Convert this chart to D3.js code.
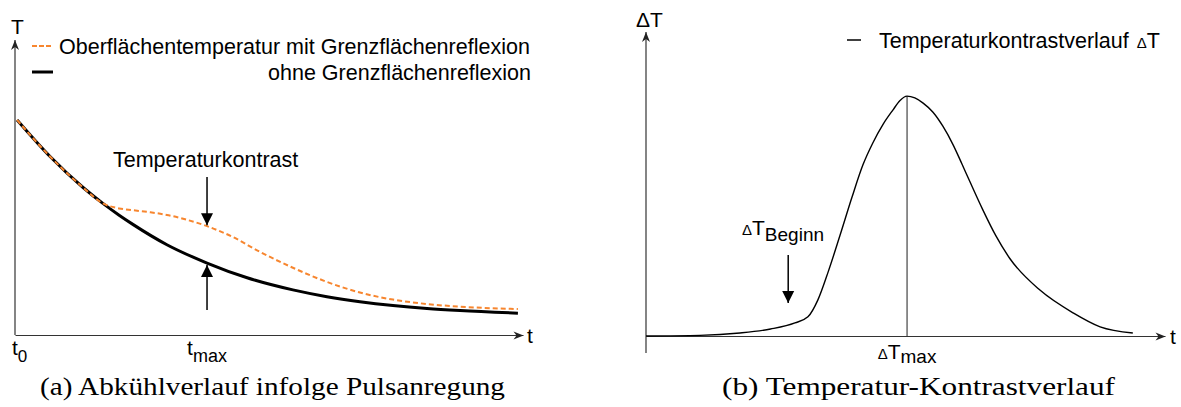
<!DOCTYPE html>
<html><head><meta charset="utf-8">
<script src="https://cdn.jsdelivr.net/npm/d3@7"></script>
<style>
html,body{margin:0;padding:0;background:#fff;}
svg{display:block;}
text{font-family:"Liberation Sans",Arial,sans-serif;fill:#000;}
</style></head>
<body>
<script>
// ---- data (a) Abkühlverlauf ----
const tBlackT    = [0.4, 6.9, 13.4, 17.3, 20.5, 23.2, 29.9, 37.8, 45.7, 54.7, 61.4, 67.9, 74.4, 81.1, 87.6, 99];
const tBlack     = [72.9, 60.5, 50.0, 44.6, 40.6, 37.5, 30.6, 24.4, 19.4, 15.3, 13.0, 11.3, 10.0, 9.0, 8.3, 7.4];
const tOrangeT   = [0.4, 6.9, 13.4, 17.3, 20.5, 23.2, 26.6, 29.9, 33.1, 37.8, 42.9, 48.2, 54.7, 61.4, 67.9, 74.4, 81.1, 87.6, 99];
const tOrange    = [72.9, 60.5, 50.0, 44.6, 42.9, 42.3, 41.6, 40.7, 39.4, 36.9, 33.2, 28.2, 22.8, 18.0, 14.4, 12.0, 10.5, 9.6, 8.8];
const tMaxLeft   = 37.8;
const legendLeft = ["Oberflächentemperatur mit Grenzflächenreflexion", "ohne Grenzflächenreflexion"];
// ---- data (b) Temperatur-Kontrastverlauf ----
const tRight     = [0, 10.4, 18.1, 24.0, 28.7, 31.2, 33.1, 35.1, 37.4, 39.7, 41.8, 43.7, 45.7, 47.6, 48.9, 50.3, 51.8, 53.4, 55.3, 57.2, 59.2, 60.9, 62.4, 64.9, 67.4, 70.1, 75.9, 82.3, 87.5, 93.8];
const deltaT     = [0, 0.2, 1.0, 2.3, 4.3, 6.3, 11.8, 21.1, 33.2, 45.7, 56.3, 63.5, 69.7, 74.4, 77.4, 78.9, 78.3, 76.6, 73.6, 69.0, 62.8, 56.5, 50.8, 41.5, 33.0, 25.5, 15.1, 7.6, 3.0, 1.0];
const tPeak      = 50.3;
const tBeginn    = 27.4;
const legendRight = "Temperaturkontrastverlauf";
const captions   = ["(a) Abkühlverlauf infolge Pulsanregung", "(b) Temperatur-Kontrastverlauf"];

const W = 1181, H = 407;
const svg = d3.select("body").append("svg").attr("width", W).attr("height", H);
const defs = svg.append("defs");
defs.append("marker").attr("id","axarrow").attr("viewBox","-11 -5 12 10")
  .attr("refX",0).attr("refY",0).attr("markerWidth",12).attr("markerHeight",10)
  .attr("markerUnits","userSpaceOnUse").attr("orient","auto")
  .append("path").attr("d","M0,0 L-10,-4 L-7,0 L-10,4 Z").attr("fill","#222");
defs.append("marker").attr("id","annarrow").attr("viewBox","-13 -7 14 14")
  .attr("refX",0).attr("refY",0).attr("markerWidth",14).attr("markerHeight",14)
  .attr("markerUnits","userSpaceOnUse").attr("orient","auto")
  .append("path").attr("d","M0,0 L-12,-6 L-12,6 Z").attr("fill","#000");

function styleAxis(g){
  g.select(".domain").attr("stroke","#333").attr("stroke-width",1.2);
}

// ===== Panel (a) =====
const xL = d3.scaleLinear().domain([0,100]).range([15,523]);
const yL = d3.scaleLinear().domain([0,100]).range([335,40]);
const gL = svg.append("g");

const axBL = gL.append("g").attr("transform",`translate(0,${yL(0)})`)
  .call(d3.axisBottom(xL).tickValues([]).tickSizeOuter(0)).call(styleAxis);
axBL.select(".domain").attr("marker-end","url(#axarrow)");
const axLL = gL.append("g").attr("transform",`translate(${xL(0)},0)`)
  .call(d3.axisLeft(yL).tickValues([]).tickSizeOuter(0)).call(styleAxis);
axLL.select(".domain").attr("d",`M0,${yL(0)}V${yL(100)}`).attr("marker-end","url(#axarrow)");

const lineL = (ts, vs) => d3.line().x((d,i)=>xL(ts[i])).y(d=>yL(d)).curve(d3.curveMonotoneX)(vs);
gL.append("path").attr("d",lineL(tBlackT, tBlack)).attr("fill","none").attr("stroke","#000").attr("stroke-width",3);
gL.append("path").attr("d",lineL(tOrangeT, tOrange)).attr("fill","none").attr("stroke","#f7862f").attr("stroke-width",2).attr("stroke-dasharray","5,3");

// labels
gL.append("text").attr("x",11).attr("y",34).attr("font-size",21).text("T");
gL.append("text").attr("x",xL(100)+4).attr("y",yL(0)+8).attr("font-size",21).text("t");
const t0 = gL.append("text").attr("x",xL(0)-3).attr("y",yL(0)+20).attr("font-size",21);
t0.append("tspan").text("t");
t0.append("tspan").attr("dy",7).attr("font-size",17).text("0");
const tmx = gL.append("text").attr("x",xL(tMaxLeft)).attr("y",yL(0)+20).attr("font-size",21).attr("text-anchor","middle");
tmx.append("tspan").text("t");
tmx.append("tspan").attr("dy",7).attr("font-size",18).text("max");

// legend
gL.append("line").attr("x1",32).attr("x2",51).attr("y1",46).attr("y2",46).attr("stroke","#f7862f").attr("stroke-width",2).attr("stroke-dasharray","5,2");
gL.append("line").attr("x1",32).attr("x2",53).attr("y1",72).attr("y2",72).attr("stroke","#000").attr("stroke-width",3);
gL.append("text").attr("x",59).attr("y",54).attr("font-size",21.5).text(legendLeft[0]);
gL.append("text").attr("x",531).attr("y",80).attr("font-size",21.5).attr("text-anchor","end").text(legendLeft[1]);

// annotation
const iMb = tBlackT.indexOf(tMaxLeft), iMo = tOrangeT.indexOf(tMaxLeft);
gL.append("text").attr("x",113).attr("y",167).attr("font-size",21.5).text("Temperaturkontrast");
gL.append("line").attr("x1",xL(tMaxLeft)).attr("x2",xL(tMaxLeft)).attr("y1",177).attr("y2",yL(tOrange[iMo])-1)
  .attr("stroke","#000").attr("stroke-width",1.5).attr("marker-end","url(#annarrow)");
gL.append("line").attr("x1",xL(tMaxLeft)).attr("x2",xL(tMaxLeft)).attr("y1",310).attr("y2",yL(tBlack[iMb])+2)
  .attr("stroke","#000").attr("stroke-width",1.5).attr("marker-end","url(#annarrow)");

// ===== Panel (b) =====
const xR = d3.scaleLinear().domain([0,100]).range([646,1165]);
const yR = d3.scaleLinear().domain([0,100]).range([336,32]);
const gR = svg.append("g");
const axBR = gR.append("g").attr("transform",`translate(0,${yR(0)})`)
  .call(d3.axisBottom(xR).tickValues([]).tickSizeOuter(0)).call(styleAxis);
axBR.select(".domain").attr("marker-end","url(#axarrow)");
const axLR = gR.append("g").attr("transform",`translate(${xR(0)},0)`)
  .call(d3.axisLeft(yR).tickValues([]).tickSizeOuter(0)).call(styleAxis);
axLR.select(".domain").attr("d",`M0,${yR(-5.6)}V${yR(100)}`).attr("marker-end","url(#axarrow)");

const iP = tRight.indexOf(tPeak);
gR.append("line").attr("x1",xR(tPeak)).attr("x2",xR(tPeak)).attr("y1",yR(0)).attr("y2",yR(deltaT[iP]))
  .attr("stroke","#444").attr("stroke-width",1.2);
gR.append("path").attr("d", d3.line().x((d,i)=>xR(tRight[i])).y(d=>yR(d)).curve(d3.curveMonotoneX)(deltaT))
  .attr("fill","none").attr("stroke","#000").attr("stroke-width",1.4);

gR.append("text").attr("x",636).attr("y",27).attr("font-size",21).text("ΔT");
gR.append("text").attr("x",xR(100)+5).attr("y",yR(0)+8).attr("font-size",21).text("t");

const dm = gR.append("text").attr("x",xR(tPeak)).attr("y",yR(0)+23).attr("font-size",21).attr("text-anchor","middle");
dm.append("tspan").attr("font-size",15).text("Δ");
dm.append("tspan").text("T");
dm.append("tspan").attr("dy",4).attr("font-size",19).text("max");

const db = gR.append("text").attr("x",742).attr("y",235).attr("font-size",21);
db.append("tspan").attr("font-size",15).text("Δ");
db.append("tspan").text("T");
db.append("tspan").attr("dy",6).attr("font-size",19).text("Beginn");
gR.append("line").attr("x1",xR(tBeginn)).attr("x2",xR(tBeginn)).attr("y1",255).attr("y2",303)
  .attr("stroke","#000").attr("stroke-width",1.5).attr("marker-end","url(#annarrow)");

// legend
gR.append("line").attr("x1",847).attr("x2",861).attr("y1",40).attr("y2",40).attr("stroke","#000").attr("stroke-width",1.5);
const lr = gR.append("text").attr("x",879).attr("y",48).attr("font-size",21.5);
lr.append("tspan").text(legendRight + " ");
lr.append("tspan").attr("font-size",15).attr("dx",2).text("Δ");
lr.append("tspan").text("T");

// captions
const serif = "'Liberation Serif', 'DejaVu Serif', serif";
svg.append("text").style("font-family",serif).attr("x",40).attr("y",395).attr("font-size",25)
  .attr("textLength",465).attr("lengthAdjust","spacingAndGlyphs").text(captions[0]);
svg.append("text").style("font-family",serif).attr("x",722).attr("y",395).attr("font-size",25)
  .attr("textLength",393).attr("lengthAdjust","spacingAndGlyphs").text(captions[1]);
</script>
</body></html>
